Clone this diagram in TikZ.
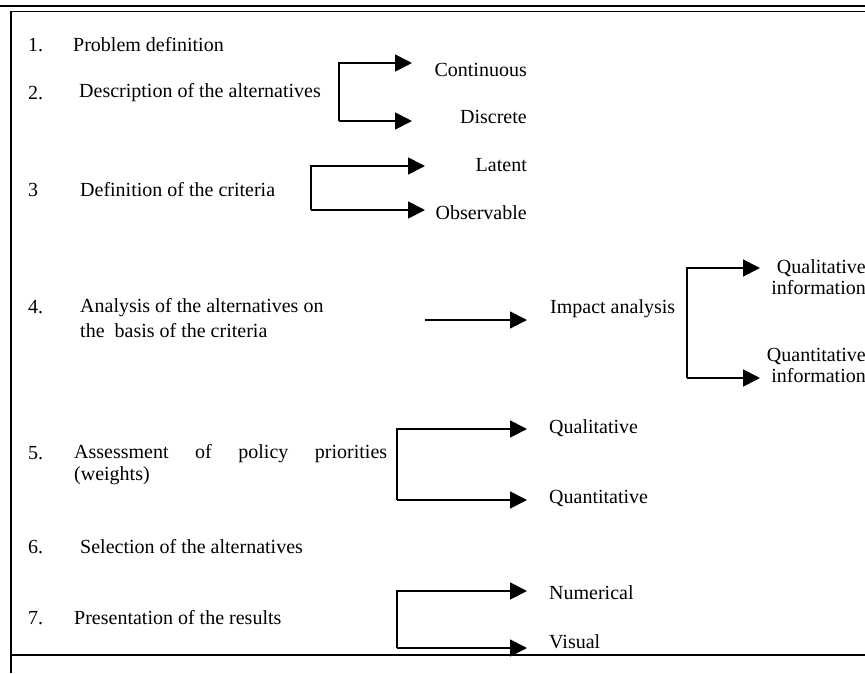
\documentclass[tikz,border=0pt]{standalone}
\usepackage{fontspec}
\setmainfont{Liberation Serif}
\usetikzlibrary{arrows.meta}
\begin{document}
\begin{tikzpicture}[x=1pt,y=-1pt,
  txt/.style={inner sep=0pt, font=\fontsize{20}{22}\selectfont},
  num/.style={txt, anchor=west},
  item/.style={txt, anchor=west},
  lab/.style={txt, anchor=east},
  conn/.style={line width=1.8pt, line join=miter},
  arr/.style={conn, -{Triangle[length=17pt,width=17pt]}},
  frameline/.style={line width=1.2pt}]
\useasboundingbox (0,0) rectangle (865,673);
% frame
\coordinate (ftl) at (0,6);   \coordinate (ftr) at (865,6);
\coordinate (fil) at (11,11); \coordinate (fir) at (865,11);
\coordinate (fbl) at (11,655); \coordinate (fbr) at (865,655);
\coordinate (fll) at (11,673);
\draw[line width=2.5pt] (ftl) -- (ftr);
\draw[line width=0.8pt] (fil) -- (fir);
\draw[frameline] (fil) -- (fll);
\draw[frameline] (fbl) -- (fbr);

% left column
\node[num] (n1) at (28,45) {1.};
\node[item] (t1) at (73,45) {Problem definition};
\node[num] (n2) at (28,93) {2.};
\node[item] (t2) at (79,93) {Description of the alternatives};
\node[num] (n3) at (28,190) {3};
\node[item] (t3) at (80,190) {Definition of the criteria};
\node[num] (n4) at (28,307) {4.};
\node[txt, anchor=north west, align=left, font=\fontsize{20}{25}\selectfont] (t4) at (80,298)
  {Analysis of the alternatives on\\the\ \ basis of the criteria};
\node[num] (n5) at (28,453) {5.};
\node[txt, anchor=north west, align=left, font=\fontsize{20}{22}\selectfont] (t5) at (74,444)
  {\hbox to 313pt{Assessment\hfill of\hfill policy\hfill priorities}\\(weights)};
\node[num] (n6) at (28,547) {6.};
\node[item] (t6) at (80,547) {Selection of the alternatives};
\node[num] (n7) at (28,618) {7.};
\node[item] (t7) at (74,618) {Presentation of the results};

% right labels
\node[lab] (cont) at (527,70) {Continuous};
\node[lab] (disc) at (527,117) {Discrete};
\node[lab] (lat) at (527,165) {Latent};
\node[lab] (obs) at (527,213) {Observable};
\node[item] (imp) at (550,309) {Impact analysis};
\node[txt, anchor=north east, align=right, font=\fontsize{20}{21}\selectfont] (qli) at (866,259) {Qualitative\\information};
\node[txt, anchor=north east, align=right, font=\fontsize{20}{21}\selectfont] (qni) at (866,348) {Quantitative\\information};
\node[item] (ql5) at (549,428) {Qualitative};
\node[item] (qn5) at (549,498) {Quantitative};
\node[item] (numr) at (549,593) {Numerical};
\node[item] (vis) at (549,642) {Visual};

% bracket 2
\coordinate (b2t) at (339,63);  \coordinate (b2b) at (339,121);
\coordinate (b2u) at (412,63);  \coordinate (b2d) at (412,121);
\draw[arr] (b2b) -- (b2t) -- (b2u);
\draw[arr] (b2b) -- (b2d);
% bracket 3
\coordinate (b3t) at (311,166); \coordinate (b3b) at (311,210);
\coordinate (b3u) at (425,166); \coordinate (b3d) at (425,210);
\draw[arr] (b3b) -- (b3t) -- (b3u);
\draw[arr] (b3b) -- (b3d);
% arrow 4
\coordinate (a4s) at (425,320); \coordinate (a4e) at (527,320);
\draw[arr] (a4s) -- (a4e);
% bracket 4
\coordinate (b4t) at (687,268); \coordinate (b4b) at (687,378);
\coordinate (b4u) at (760,268); \coordinate (b4d) at (760,378);
\draw[arr] (b4b) -- (b4t) -- (b4u);
\draw[arr] (b4b) -- (b4d);
% bracket 5
\coordinate (b5t) at (397,429); \coordinate (b5b) at (397,500);
\coordinate (b5u) at (527,429); \coordinate (b5d) at (527,500);
\draw[arr] (b5b) -- (b5t) -- (b5u);
\draw[arr] (b5b) -- (b5d);
% bracket 7
\coordinate (b7t) at (397,591); \coordinate (b7b) at (397,648);
\coordinate (b7u) at (527,591); \coordinate (b7d) at (527,648);
\draw[arr] (b7b) -- (b7t) -- (b7u);
\draw[arr] (b7b) -- (b7d);
\end{tikzpicture}
\end{document}
